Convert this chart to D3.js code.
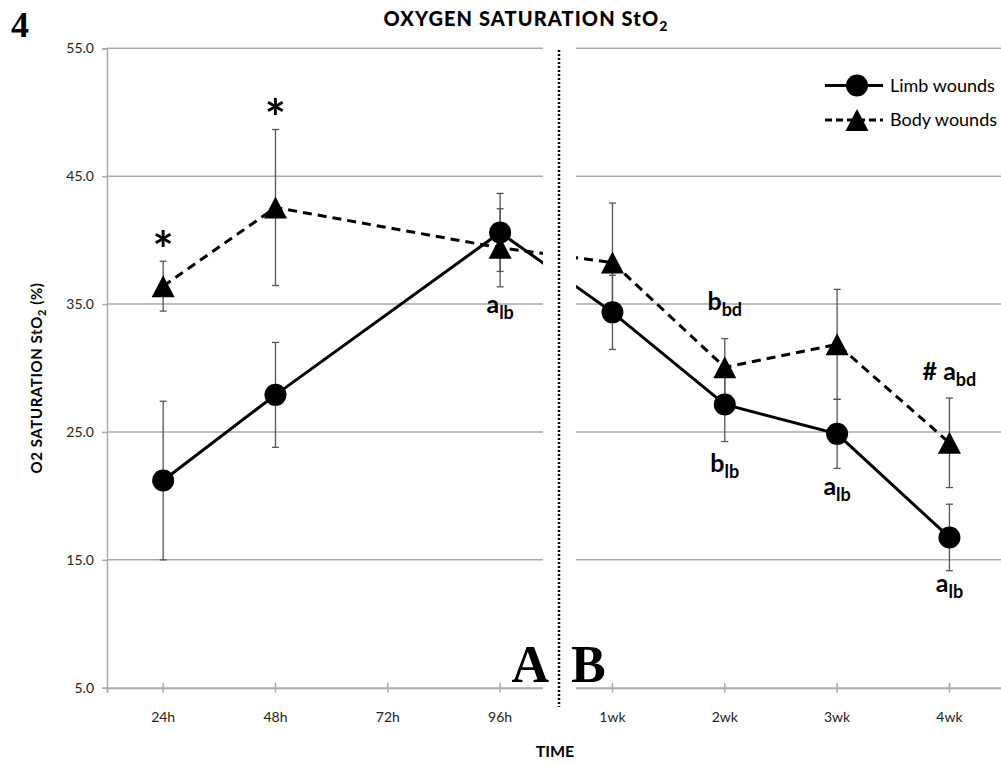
<!DOCTYPE html>
<html>
<head>
<meta charset="utf-8">
<script src="https://cdn.jsdelivr.net/npm/d3@7"></script>
<style>
  html, body { margin: 0; padding: 0; background: #fff; }
  svg { display: block; }
  text { font-family: Lato, "Open Sans", sans-serif; }
</style>
</head>
<body>
<svg id="chart" width="1001" height="765"></svg>
<script>
// ---- data ----
const categories = ["24h", "48h", "72h", "96h", "1wk", "2wk", "3wk", "4wk"];
const limbValues = [21.2, 27.9, null, 40.6, 34.35, 27.15, 24.85, 16.75];
const limbErrors = [6.2, 4.1, null, 3.05, 2.9, 2.9, 2.7, 2.6];
const bodyValues = [36.4, 42.55, null, 39.4, 38.25, 30.05, 31.85, 24.15];
const bodyErrors = [1.95, 6.1, null, 3.05, 4.65, 2.25, 4.3, 3.5];
const yTicks = [5, 15, 25, 35, 45, 55];
const seriesNames = ["Limb wounds", "Body wounds"];
// significance annotations: category, value level, main text, subscript
const annotations = [
  { cat: "24h", value: 40.28, main: "*", sub: "" },
  { cat: "48h", value: 50.53, main: "*", sub: "" },
  { cat: "96h", value: 34.3, main: "a", sub: "lb" },
  { cat: "2wk", value: 34.5, main: "b", sub: "bd" },
  { cat: "2wk", value: 21.9, main: "b", sub: "lb" },
  { cat: "3wk", value: 20.05, main: "a", sub: "lb" },
  { cat: "4wk", value: 29.1, main: "# a", sub: "bd" },
  { cat: "4wk", value: 12.5, main: "a", sub: "lb" }
];

// ---- layout ----
const svg = d3.select("#chart");
const plotL = 107, plotR = 1005.6, plotT = 48.3, plotB = 687.7;
const x = d3.scaleBand().domain(categories).range([plotL, plotR]).padding(0);
const cx = c => x(c) + x.bandwidth() / 2;
const y = d3.scaleLinear().domain([5, 55]).range([plotB, plotT]);
const gapL = 543, gapR = 576, divX = 559;
const gridColor = "#aaaaaa";

// gridlines
svg.append("g").selectAll("line").data(yTicks.filter(t => t > 5)).join("line")
  .attr("x1", plotL).attr("x2", 1001)
  .attr("y1", d => y(d)).attr("y2", d => y(d))
  .attr("stroke", gridColor).attr("stroke-width", 1.5);

// y axis
const yAxis = d3.axisLeft(y).tickValues(yTicks).tickFormat(d3.format(".1f")).tickSize(5).tickPadding(8);
const gy = svg.append("g").attr("transform", `translate(${plotL},0)`).call(yAxis);
gy.select(".domain").attr("stroke", gridColor).attr("stroke-width", 1.5);
gy.selectAll(".tick line").attr("stroke", gridColor).attr("stroke-width", 1.5);
gy.selectAll(".tick text").attr("font-size", 14).attr("fill", "#222")
  .style("font-family", "Lato, sans-serif");

// x axis
const xAxis = d3.axisBottom(x).tickSize(5).tickPadding(19);
const gx = svg.append("g").attr("transform", `translate(0,${plotB})`).call(xAxis);
gx.select(".domain").attr("stroke", gridColor).attr("stroke-width", 2);
gx.selectAll(".tick line").attr("stroke", gridColor).attr("stroke-width", 1.5).attr("y1", -5);
gx.selectAll(".tick text").attr("font-size", 14).attr("fill", "#222")
  .style("font-family", "Lato, sans-serif");

// data prep
function pts(vals, errs) {
  return categories.map((c, i) => ({ c, v: vals[i], e: errs[i] })).filter(d => d.v != null);
}
const limb = pts(limbValues, limbErrors);
const body = pts(bodyValues, bodyErrors);

// error bars
function errBars(data) {
  const g = svg.append("g").attr("stroke", "#555").attr("stroke-width", 1.3);
  data.forEach(d => {
    const xx = cx(d.c);
    g.append("line").attr("x1", xx).attr("x2", xx).attr("y1", y(d.v - d.e)).attr("y2", y(d.v + d.e));
    [d.v - d.e, d.v + d.e].forEach(v => {
      g.append("line").attr("x1", xx - 3.5).attr("x2", xx + 3.5).attr("y1", y(v)).attr("y2", y(v));
    });
  });
}
errBars(body);
errBars(limb);

// lines
const line = d3.line().x(d => cx(d.c)).y(d => y(d.v));
svg.append("path").datum(body).attr("d", line).attr("fill", "none")
  .attr("stroke", "#000").attr("stroke-width", 3).attr("stroke-dasharray", "9,6");
svg.append("path").datum(limb).attr("d", line).attr("fill", "none")
  .attr("stroke", "#000").attr("stroke-width", 3);

// markers
const tri = (w, h) => `M0,${-h / 2}L${w / 2},${h / 2}L${-w / 2},${h / 2}Z`;
svg.append("g").selectAll("path").data(body).join("path")
  .attr("d", tri(23, 22)).attr("transform", d => `translate(${cx(d.c)},${y(d.v)})`).attr("fill", "#000");
svg.append("g").selectAll("circle").data(limb).join("circle")
  .attr("cx", d => cx(d.c)).attr("cy", d => y(d.v)).attr("r", 11).attr("fill", "#000");

// gap between panels
svg.append("rect").attr("x", gapL).attr("y", 20).attr("width", gapR - gapL).attr("height", 700).attr("fill", "#fff");
svg.append("line").attr("x1", divX).attr("x2", divX).attr("y1", 50).attr("y2", 707)
  .attr("stroke", "#000").attr("stroke-width", 2.5).attr("stroke-dasharray", "2,2");

// annotations
annotations.forEach(a => {
  const t = svg.append("text").attr("x", cx(a.cat)).attr("y", y(a.value))
    .attr("text-anchor", "middle").attr("font-weight", "bold").attr("fill", "#000");
  if (a.main === "*") {
    t.attr("font-size", 50).text("*");
    const b = t.node().getBBox();
    // glyph ink of the asterisk sits in the upper part of its em box
    t.attr("dy", y(a.value) - (b.y + b.height * 0.3));
  } else {
    t.attr("font-size", 25).append("tspan").text(a.main);
    t.append("tspan").attr("font-size", 18).attr("dy", 6).text(a.sub);
  }
});

// panel letters
const serif = "'Liberation Serif', 'DejaVu Serif', serif";
svg.append("text").attr("x", 549).attr("y", 682).attr("text-anchor", "end")
  .attr("font-size", 52).attr("font-weight", "bold").style("font-family", serif).text("A");
svg.append("text").attr("x", 571).attr("y", 682)
  .attr("font-size", 52).attr("font-weight", "bold").style("font-family", serif).text("B");
svg.append("text").attr("x", 11).attr("y", 37)
  .attr("font-size", 36).attr("font-weight", "bold").style("font-family", serif).text("4");

// title
const title = svg.append("text").attr("x", 526).attr("y", 26).attr("text-anchor", "middle")
  .attr("font-size", 20).attr("font-weight", "900").attr("letter-spacing", 1.1);
title.append("tspan").text("OXYGEN SATURATION StO");
title.append("tspan").attr("font-size", 14).attr("dy", 5).text("2");

// axis titles
const yt = svg.append("text").attr("transform", `translate(42,378) rotate(-90)`)
  .attr("text-anchor", "middle").attr("font-size", 15).attr("font-weight", "bold").attr("letter-spacing", 0.6);
yt.append("tspan").text("O2 SATURATION StO");
yt.append("tspan").attr("font-size", 11).attr("dy", 4).text("2");
yt.append("tspan").attr("dy", -4).text(" (%)");
svg.append("text").attr("x", 555).attr("y", 757).attr("text-anchor", "middle")
  .attr("font-size", 16).attr("font-weight", "bold").text("TIME");

// legend
const legend = svg.append("g");
[0, 1].forEach(i => {
  const ly = 85.5 + i * 34.5;
  legend.append("line").attr("x1", 825).attr("x2", 883).attr("y1", ly).attr("y2", ly)
    .attr("stroke", "#000").attr("stroke-width", 3).attr("stroke-dasharray", i ? "7,4" : null);
  if (i === 0) legend.append("circle").attr("cx", 857).attr("cy", ly).attr("r", 11);
  else legend.append("path").attr("d", tri(23, 22)).attr("transform", `translate(857,${ly})`);
  legend.append("text").attr("x", 890).attr("y", ly).attr("dy", "0.36em")
    .attr("font-size", 18).text(seriesNames[i]);
});
</script>
</body>
</html>
